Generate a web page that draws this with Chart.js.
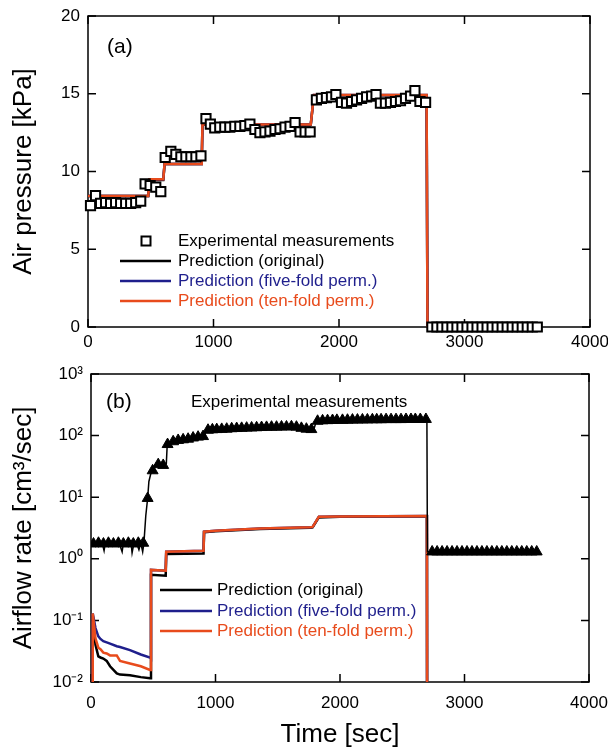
<!DOCTYPE html>
<html lang="en">
<head>
<meta charset="UTF-8">
<title>Air pressure and airflow rate</title>
<script src="https://cdn.jsdelivr.net/npm/chart.js@4.4.1/dist/chart.umd.min.js"></script>
<style>
  body { margin: 0; background: #fff; }
  #wrap { position: relative; width: 608px; height: 750px; }
  canvas { position: absolute; left: 0; }
  #pressureChart { top: 0; }
  #flowChart { top: 360px; }
</style>
</head>
<body>
<div id="wrap">
  <canvas id="pressureChart" width="608" height="360"></canvas>
  <canvas id="flowChart" width="608" height="390"></canvas>
</div>
<script>
// measurement times [sec], shared by both panels
const expTime = [20, 60, 100, 140, 180, 220, 260, 300, 340, 380, 420, 455, 495, 540, 580, 615, 660, 700, 740, 780,
  820, 860, 900, 940, 975, 1010, 1050, 1090, 1130, 1170, 1210, 1250, 1290, 1330, 1370, 1410, 1450, 1490, 1530, 1570,
  1610, 1650, 1690, 1730, 1770, 1820, 1860, 1900, 1940, 1975, 2020, 2060, 2100, 2140, 2180, 2220, 2260, 2295, 2330, 2370,
  2410, 2450, 2490, 2530, 2570, 2605, 2645, 2690, 2740, 2780, 2820, 2860, 2900, 2940, 2980, 3020, 3060, 3100, 3140, 3180,
  3220, 3260, 3300, 3340, 3380, 3420, 3460, 3500, 3540, 3580];

// (a) measured air pressure [kPa]
const expPressure = [7.8, 8.45, 7.95, 8.0, 7.95, 8.0, 7.95, 7.95, 7.95, 8.0, 8.1, 9.2, 9.1, 9.0, 8.7, 10.9, 11.3, 11.1, 10.95, 10.95,
  10.95, 10.95, 11.0, 13.4, 13.05, 12.8, 12.85, 12.85, 12.85, 12.9, 12.9, 12.95, 13.05, 12.7, 12.5, 12.55, 12.6, 12.7, 12.75, 12.85,
  12.9, 13.15, 12.55, 12.55, 12.55, 14.6, 14.7, 14.75, 14.8, 14.95, 14.45, 14.4, 14.5, 14.6, 14.7, 14.8, 14.85, 14.95, 14.4, 14.4,
  14.45, 14.5, 14.55, 14.7, 14.85, 15.2, 14.5, 14.45, 0, 0, 0, 0, 0, 0, 0, 0, 0, 0, 0, 0,
  0, 0, 0, 0, 0, 0, 0, 0, 0, 0];

// (a) predicted air pressure
const predTimeA = [0, 480, 490, 600, 610, 906, 912, 1775, 1800, 2698, 2705, 3600];
const predPressureOrig = [8.42, 8.42, 9.45, 9.45, 10.48, 10.48, 13.0, 13.0, 14.9, 14.9, 0, 0];
const predPressureFive = [8.42, 8.42, 9.5, 9.5, 10.48, 10.48, 13.03, 13.03, 14.92, 14.92, 0, 0];
const predPressureTen = [8.42, 8.42, 9.5, 9.5, 10.48, 10.48, 13.03, 13.03, 14.92, 14.92, 0, 0];

// (b) measured airflow rate [cm3/sec], triangles
const expFlow = [1.75, 1.8, 1.75, 1.8, 1.75, 1.8, 1.75, 1.8, 1.75, 1.8, 1.8, 9.6, 27, 34, 33, 72, 80, 84, 86, 88,
  92, 95, 97, 123, 125, 126, 127, 128, 130, 131, 132, 133, 134, 135, 136, 137, 138, 138, 139, 139,
  140, 138, 132, 128, 126, 172, 175, 176, 177, 178, 178, 179, 180, 180, 181, 181, 182, 182, 182, 183,
  183, 183, 183, 184, 184, 184, 184, 184, 1.3, 1.3, 1.3, 1.3, 1.3, 1.3, 1.3, 1.3, 1.3, 1.3, 1.3, 1.3,
  1.3, 1.3, 1.3, 1.3, 1.3, 1.3, 1.3, 1.3, 1.3, 1.3];

// (b) continuous measured record
const expLineTime = [0, 20, 35, 50, 70, 90, 105, 115, 140, 160, 175, 200, 230, 250, 260, 290, 320, 330, 345, 370,
  385, 400, 415, 425, 440, 455, 465, 480, 495, 510, 525, 540, 555, 570, 585, 605, 612, 630, 660, 700,
  780, 860, 910, 930, 1000, 1300, 1600, 1700, 1790, 1810, 2000, 2400, 2698, 2702, 3580];
const expLineFlow = [1.7, 1.75, 1.6, 1.85, 1.7, 1.8, 1.35, 1.8, 1.75, 1.9, 1.6, 1.8, 1.7, 1.3, 1.8, 1.75, 1.95, 1.25, 1.8, 1.7,
  1.4, 1.8, 1.3, 1.8, 5, 9.6, 18, 24, 27, 30, 36, 33, 31, 36, 33, 35, 70, 72, 80, 84,
  88, 95, 98, 122, 126, 134, 140, 130, 126, 172, 178, 183, 184, 1.3, 1.3];

// (b) predicted airflow rate
const predTimeB = [10, 14, 36, 59, 76, 99, 126, 153, 207, 233, 313, 400, 474, 482, 482, 600, 604, 904, 908, 1000,
  1357, 1760, 1780, 1830, 2000, 2698, 2700];
const predFlowOrig = [0.001, 0.12, 0.04, 0.026, 0.025, 0.024, 0.022, 0.018, 0.0138, 0.0132, 0.0129, 0.012, 0.0115, 0.0115, 0.55, 0.53, 1.2, 1.22, 2.7, 2.8,
  3.05, 3.2, 3.25, 4.7, 4.8, 4.9, 0.001];
const predFlowFive = [0.001, 0.13, 0.075, 0.055, 0.05, 0.046, 0.044, 0.042, 0.038, 0.037, 0.033, 0.028, 0.025, 0.024, 0.66, 0.64, 1.3, 1.35, 2.75, 2.85,
  3.1, 3.24, 3.3, 4.8, 4.85, 4.95, 0.001];
const predFlowTen = [0.001, 0.13, 0.051, 0.036, 0.034, 0.03, 0.029, 0.027, 0.027, 0.022, 0.02, 0.018, 0.0157, 0.0157, 0.66, 0.64, 1.3, 1.35, 2.75, 2.85,
  3.1, 3.24, 3.3, 4.8, 4.85, 4.95, 0.001];

const xTicks = [0, 1000, 2000, 3000, 4000];
const yTicksA = [0, 5, 10, 15, 20];
const yTicksB = [0.01, 0.1, 1, 10, 100, 1000];
const yTickLabelsB = ['10\u207B\u00B2', '10\u207B\u00B9', '10\u2070', '10\u00B9', '10\u00B2', '10\u00B3'];

const BLACK = '#000000';
const BLUE = '#1f1f8c';
const ORANGE = '#e84b1c';

Chart.defaults.font.family = '"Liberation Sans", Arial, sans-serif';
Chart.defaults.color = '#000';

function pairs(xs, ys) {
  return xs.map((x, i) => ({ x: x, y: ys[i] }));
}

function lineSet(label, xs, ys, color, order) {
  return {
    label: label, data: pairs(xs, ys), showLine: true, borderColor: color,
    borderWidth: 2.5, pointRadius: 0, order: order
  };
}

// box round the plot area with inward ticks on all four sides
const framePlugin = {
  id: 'frame',
  beforeDatasetsDraw(chart) {
    const ctx = chart.ctx, a = chart.chartArea, len = 8;
    ctx.save();
    ctx.strokeStyle = '#000';
    ctx.lineWidth = 1.5;
    ctx.strokeRect(a.left, a.top, a.right - a.left, a.bottom - a.top);
    ctx.beginPath();
    chart.scales.x.ticks.forEach(t => {
      const px = chart.scales.x.getPixelForValue(t.value);
      ctx.moveTo(px, a.bottom); ctx.lineTo(px, a.bottom - len);
      ctx.moveTo(px, a.top); ctx.lineTo(px, a.top + len);
    });
    chart.scales.y.ticks.forEach(t => {
      const py = chart.scales.y.getPixelForValue(t.value);
      ctx.moveTo(a.left, py); ctx.lineTo(a.left + len, py);
      ctx.moveTo(a.right, py); ctx.lineTo(a.right - len, py);
    });
    ctx.stroke();
    ctx.restore();
  }
};

// panel letters and hand-placed legends
const notePlugin = {
  id: 'notes',
  afterDraw(chart, args, opts) {
    const ctx = chart.ctx;
    ctx.save();
    (opts.items || []).forEach(it => {
      if (it.kind === 'text') {
        ctx.font = it.size + 'px "Liberation Sans", Arial, sans-serif';
        ctx.fillStyle = it.color || '#000';
        ctx.textBaseline = 'middle';
        ctx.textAlign = 'left';
        ctx.fillText(it.text, it.x, it.y);
      } else if (it.kind === 'line') {
        ctx.strokeStyle = it.color;
        ctx.lineWidth = 2.5;
        ctx.beginPath();
        ctx.moveTo(it.x1, it.y); ctx.lineTo(it.x2, it.y);
        ctx.stroke();
      } else if (it.kind === 'square') {
        ctx.fillStyle = '#fff';
        ctx.strokeStyle = '#000';
        ctx.lineWidth = 2;
        ctx.fillRect(it.x - 4.5, it.y - 4.5, 9, 9);
        ctx.strokeRect(it.x - 4.5, it.y - 4.5, 9, 9);
      }
    });
    ctx.restore();
  }
};

function xScale(height, padding, title) {
  return {
    type: 'linear', min: 0, max: 4000,
    afterBuildTicks: s => { s.ticks = xTicks.map(v => ({ value: v })); },
    afterFit: s => { s.height = height; s.paddingLeft = 0; s.paddingRight = 0; },
    grid: { display: false, drawTicks: false },
    border: { display: false },
    ticks: { padding: padding, maxRotation: 0, font: { size: 17 }, callback: v => String(v) },
    title: title
  };
}

var pressureChart = new Chart(document.getElementById('pressureChart').getContext('2d'), {
  type: 'scatter',
  data: {
    datasets: [
      {
        label: 'Experimental measurements', data: pairs(expTime, expPressure), pointStyle: 'rect',
        pointRadius: 6.5, pointBackgroundColor: '#fff', pointBorderColor: '#000', pointBorderWidth: 2,
        showLine: false, clip: false, order: 0
      },
      lineSet('Prediction (ten-fold perm.)', predTimeA, predPressureTen, ORANGE, 1),
      lineSet('Prediction (five-fold perm.)', predTimeA, predPressureFive, BLUE, 2),
      lineSet('Prediction (original)', predTimeA, predPressureOrig, BLACK, 3)
    ]
  },
  plugins: [framePlugin, notePlugin],
  options: {
    responsive: false,
    animation: false,
    layout: { padding: { left: 0, right: 18, top: 16, bottom: 0 } },
    scales: {
      x: xScale(33, 5, { display: false }),
      y: {
        type: 'linear', min: 0, max: 20,
        afterBuildTicks: s => { s.ticks = yTicksA.map(v => ({ value: v })); },
        afterFit: s => { s.width = 88; s.paddingTop = 0; s.paddingBottom = 0; },
        grid: { display: false, drawTicks: false },
        border: { display: false },
        ticks: { padding: 8, font: { size: 17 } },
        title: { display: true, text: 'Air pressure [kPa]', font: { size: 26 }, padding: { top: 8, bottom: 0 } }
      }
    },
    plugins: {
      legend: { display: false },
      tooltip: { enabled: false },
      notes: {
        items: [
          { kind: 'text', text: '(a)', x: 107, y: 47, size: 21 },
          { kind: 'square', x: 146, y: 241 },
          { kind: 'text', text: 'Experimental measurements', x: 178, y: 241, size: 17 },
          { kind: 'line', x1: 120, x2: 171, y: 261, color: BLACK },
          { kind: 'text', text: 'Prediction (original)', x: 178, y: 261, size: 17 },
          { kind: 'line', x1: 120, x2: 171, y: 281, color: BLUE },
          { kind: 'text', text: 'Prediction (five-fold perm.)', x: 178, y: 281, size: 17, color: BLUE },
          { kind: 'line', x1: 120, x2: 171, y: 301, color: ORANGE },
          { kind: 'text', text: 'Prediction (ten-fold perm.)', x: 178, y: 301, size: 17, color: ORANGE }
        ]
      }
    }
  }
});

var flowChart = new Chart(document.getElementById('flowChart').getContext('2d'), {
  type: 'scatter',
  data: {
    datasets: [
      {
        label: 'Experimental measurements', data: pairs(expTime, expFlow), pointStyle: 'triangle',
        pointRadius: 6.3, pointBackgroundColor: '#000', pointBorderColor: '#000', pointBorderWidth: 1,
        showLine: false, order: 0
      },
      {
        label: 'Experimental record', data: pairs(expLineTime, expLineFlow), showLine: true,
        borderColor: '#000', borderWidth: 1.5, pointRadius: 0, order: 1
      },
      lineSet('Prediction (ten-fold perm.)', predTimeB, predFlowTen, ORANGE, 2),
      lineSet('Prediction (five-fold perm.)', predTimeB, predFlowFive, BLUE, 3),
      lineSet('Prediction (original)', predTimeB, predFlowOrig, BLACK, 4)
    ]
  },
  plugins: [framePlugin, notePlugin],
  options: {
    responsive: false,
    animation: false,
    layout: { padding: { left: 0, right: 19, top: 14, bottom: 0 } },
    scales: {
      x: xScale(68, 11, { display: true, text: 'Time [sec]', font: { size: 26 }, padding: { top: 0, bottom: 0 } }),
      y: {
        type: 'logarithmic', min: 0.01, max: 1000,
        afterBuildTicks: s => { s.ticks = yTicksB.map(v => ({ value: v })); },
        afterFit: s => { s.width = 91; s.paddingTop = 0; s.paddingBottom = 0; },
        grid: { display: false, drawTicks: false },
        border: { display: false },
        ticks: { padding: 8, font: { size: 17 }, callback: (v, i) => yTickLabelsB[i] },
        title: { display: true, text: 'Airflow rate [cm\u00B3/sec]', font: { size: 26 }, padding: { top: 8, bottom: 0 } }
      }
    },
    plugins: {
      legend: { display: false },
      tooltip: { enabled: false },
      notes: {
        items: [
          { kind: 'text', text: '(b)', x: 106, y: 42, size: 21 },
          { kind: 'text', text: 'Experimental measurements', x: 191, y: 42, size: 17 },
          { kind: 'line', x1: 160, x2: 212, y: 230, color: BLACK },
          { kind: 'text', text: 'Prediction (original)', x: 217, y: 230, size: 17 },
          { kind: 'line', x1: 160, x2: 212, y: 251, color: BLUE },
          { kind: 'text', text: 'Prediction (five-fold perm.)', x: 217, y: 251, size: 17, color: BLUE },
          { kind: 'line', x1: 160, x2: 212, y: 271, color: ORANGE },
          { kind: 'text', text: 'Prediction (ten-fold perm.)', x: 217, y: 271, size: 17, color: ORANGE }
        ]
      }
    }
  }
});
</script>
</body>
</html>
